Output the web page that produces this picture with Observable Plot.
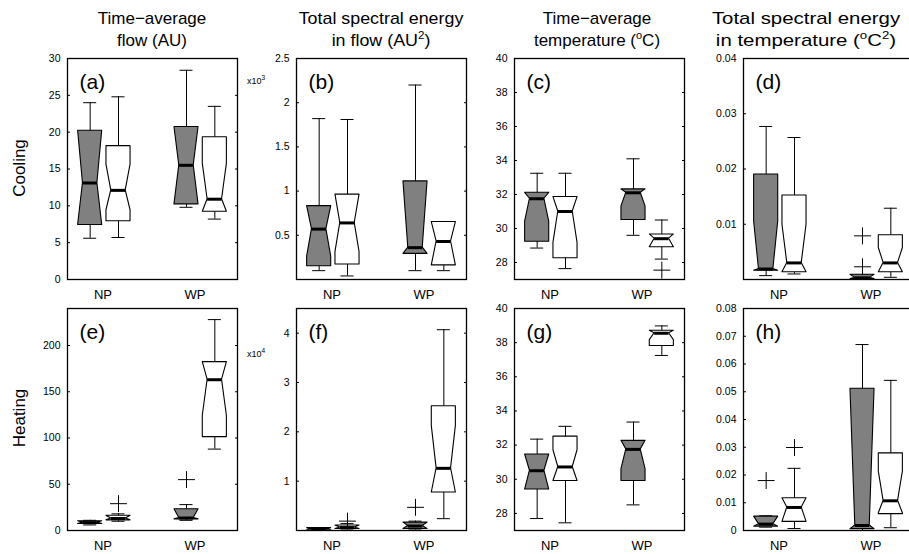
<!DOCTYPE html>
<html><head><meta charset="utf-8">
<script src="https://cdn.jsdelivr.net/npm/d3@7"></script>
<script src="https://cdn.jsdelivr.net/npm/@observablehq/plot@0.6"></script>
<style>
html,body{margin:0;padding:0;background:#fff;}
body{width:909px;height:554px;position:relative;overflow:hidden;font-family:"Liberation Sans",Arial,Helvetica,sans-serif;color:#000;}
.title{position:absolute;font-size:17px;line-height:22px;text-align:center;white-space:nowrap;}
.title sup{font-size:11px;line-height:0;vertical-align:7px;}
.row{position:absolute;font-size:17px;white-space:nowrap;transform-origin:center;}
.exp{position:absolute;font-size:9px;white-space:nowrap;}
.exp sup{font-size:6.5px;vertical-align:4px;line-height:0;}
.pnl{position:absolute;}
</style></head><body>
<script>
// ---------- shared categories / labels ----------
const groupLabels = ["NP", "WP"];
const groupPositions = [1.25, 4.5];
const boxPositions = [0.8, 1.8, 4.2, 5.2];
const boxFills = ["#808080", "#ffffff", "#808080", "#ffffff"];
const panelLabels = ["(a)", "(b)", "(c)", "(d)", "(e)", "(f)", "(g)", "(h)"];
const rowLabels = ["Cooling", "Heating"];
const titleLine1 = ["Time\u2212average", "Total spectral energy", "Time\u2212average", "Total spectral energy"];
const titleLine2 = ["flow (AU)", "in flow (AU<sup>2</sup>)", "temperature (<sup>o</sup>C)", "in temperature (<sup>o</sup>C<sup>2</sup>)"];
const exponentLabels = ["x10<sup>3</sup>", "x10<sup>4</sup>"];

// ---------- box statistics: [low whisker, q1, notch low, median, notch high, q3, high whisker] ----------
const statsA = [[5.6, 7.4, 7.4, 13.1, 20.2, 20.2, 24.0], [5.7, 7.9, 9.4, 12.1, 15.6, 18.1, 24.8], [9.8, 10.2, 10.2, 15.5, 20.7, 20.7, 28.4], [8.2, 9.2, 9.2, 10.9, 15.7, 19.3, 23.5]];
const outliersA = [[], [], [], []];
const statsB = [[0.10, 0.15, 0.26, 0.57, 0.83, 0.83, 1.82], [0.04, 0.17, 0.31, 0.64, 0.96, 0.96, 1.81], [0.10, 0.29, 0.29, 0.36, 1.11, 1.11, 2.20], [0.10, 0.16, 0.16, 0.43, 0.65, 0.65, 0.65]];
const outliersB = [[], [], [], []];
const statsC = [[28.85, 29.22, 30.4, 31.75, 32.1, 32.1, 33.25], [27.64, 28.25, 29.15, 31.0, 31.85, 31.85, 33.25], [29.6, 30.5, 31.3, 32.1, 32.3, 32.3, 34.1], [28.2, 28.9, 28.9, 29.4, 29.65, 29.65, 30.5]];
const outliersC = [[], [], [], [27.55]];
const statsD = [[0.0007, 0.0016, 0.0016, 0.0019, 0.0105, 0.019, 0.0277], [0.001, 0.0013, 0.0013, 0.003, 0.0099, 0.0152, 0.0257], [0.0001, 0.0001, 0.0001, 0.0003, 0.00085, 0.00085, 0.00085], [0.0004, 0.0013, 0.0013, 0.003, 0.0057, 0.008, 0.0129]];
const outliersD = [[], [], [0.0023, 0.0079], []];
const statsE = [[6, 7, 7, 8.5, 10, 10, 11], [10, 11, 11, 13, 16, 16, 18], [11, 12, 12, 13.5, 23, 23, 28], [88, 101, 124, 163, 182, 182, 228]];
const outliersE = [[], [29], [55], []];
const statsF = [[0.01, 0.015, 0.015, 0.03, 0.05, 0.05, 0.06], [0.01, 0.03, 0.03, 0.06, 0.10, 0.10, 0.14], [0.01, 0.03, 0.03, 0.09, 0.16, 0.16, 0.19], [0.24, 0.77, 0.77, 1.26, 2.12, 2.52, 4.07]];
const outliersF = [[], [0.19], [0.47], []];
const statsG = [[27.7, 29.4, 29.4, 30.5, 31.45, 31.45, 32.35], [27.45, 29.9, 29.9, 30.72, 31.7, 32.5, 33.1], [28.5, 29.9, 30.6, 31.75, 32.25, 32.25, 33.35], [37.25, 37.8, 38.15, 38.55, 38.7, 38.7, 38.98]];
const outliersG = [[], [], [], []];
const statsH = [[0.0012, 0.0014, 0.0014, 0.0023, 0.005, 0.005, 0.0053], [0.0007, 0.0031, 0.0031, 0.0083, 0.0116, 0.0116, 0.0224], [0, 0.0005, 0.0005, 0.0018, 0.0511, 0.0511, 0.067], [0.001, 0.0059, 0.0062, 0.0107, 0.0212, 0.0278, 0.0541]];
const outliersH = [[0.018], [0.0299], [], []];

// ---------- y axes ----------
const ticksA = [0, 5, 10, 15, 20, 25, 30], domainA = [0, 30];
const ticksB = [0.5, 1, 1.5, 2, 2.5], domainB = [0, 2.5];
const ticksC = [28, 30, 32, 34, 36, 38, 40], domainC = [27, 40];
const ticksD = [0.01, 0.02, 0.03, 0.04], domainD = [0, 0.04];
const ticksE = [0, 50, 100, 150, 200], domainE = [0, 240];
const ticksF = [1, 2, 3, 4], domainF = [0, 4.5];
const ticksG = [28, 30, 32, 34, 36, 38, 40], domainG = [27, 40];
const ticksH = [0, 0.01, 0.02, 0.03, 0.04, 0.05, 0.06, 0.07, 0.08], domainH = [0, 0.08];

const panels = [
  {stats: statsA, outliers: outliersA, ticks: ticksA, domain: domainA},
  {stats: statsB, outliers: outliersB, ticks: ticksB, domain: domainB},
  {stats: statsC, outliers: outliersC, ticks: ticksC, domain: domainC},
  {stats: statsD, outliers: outliersD, ticks: ticksD, domain: domainD},
  {stats: statsE, outliers: outliersE, ticks: ticksE, domain: domainE},
  {stats: statsF, outliers: outliersF, ticks: ticksF, domain: domainF},
  {stats: statsG, outliers: outliersG, ticks: ticksG, domain: domainG},
  {stats: statsH, outliers: outliersH, ticks: ticksH, domain: domainH}
];

// ---------- layout ----------
const colLefts = [67, 296, 514, 743];
const colTitleCenters = [152, 381, 597, 806];
const colTitleStretch = [1, 1.05, 1, 1.2];
const rowTops = [58, 308];
const rowHeights = [221, 222];
const frameW = 170;
const ML = 45, MR = 6, MT = 6, MB = 30;
const HW = 0.425, WW = 0.255, CW = 0.23;

panels.forEach((p, k) => {
  const r = Math.floor(k / 4), c = k % 4;
  const boxes = p.stats.map((s, i) => ({i, x: boxPositions[i], lo: s[0], q1: s[1], nlo: s[2], med: s[3], nhi: s[4], q3: s[5], hi: s[6]}));
  const outline = boxes.flatMap(b => [
    {i: b.i, y: b.q1, x1: b.x - HW, x2: b.x + HW},
    {i: b.i, y: b.nlo, x1: b.x - HW, x2: b.x + HW},
    {i: b.i, y: b.med, x1: b.x - WW, x2: b.x + WW},
    {i: b.i, y: b.nhi, x1: b.x - HW, x2: b.x + HW},
    {i: b.i, y: b.q3, x1: b.x - HW, x2: b.x + HW}
  ]);
  const outs = p.outliers.flatMap((o, i) => o.map(v => ({x: boxPositions[i], y: v})));
  const svg = Plot.plot({
    width: frameW + ML + MR,
    height: rowHeights[r] + MT + MB,
    marginLeft: ML, marginRight: MR, marginTop: MT, marginBottom: MB,
    style: {fontFamily: '"Liberation Sans", Arial, sans-serif', fontSize: "10.5px", color: "#000", background: "transparent", overflow: "visible"},
    x: {domain: [0, 6]},
    y: {domain: p.domain},
    color: {type: "identity"},
    marks: [
      Plot.ruleX(boxes, {x: "x", y1: "q3", y2: "hi", stroke: "#000", strokeWidth: 1}),
      Plot.ruleX(boxes, {x: "x", y1: "lo", y2: "q1", stroke: "#000", strokeWidth: 1}),
      Plot.ruleY(boxes, {y: "hi", x1: d => d.x - CW, x2: d => d.x + CW, stroke: "#000", strokeWidth: 1}),
      Plot.ruleY(boxes, {y: "lo", x1: d => d.x - CW, x2: d => d.x + CW, stroke: "#000", strokeWidth: 1}),
      Plot.areaX(outline, {y: "y", x1: "x1", x2: "x2", z: "i", fill: d => boxFills[d.i], stroke: "#000", strokeWidth: 1.1, curve: "linear"}),
      Plot.ruleY(boxes, {y: "med", x1: d => d.x - WW, x2: d => d.x + WW, stroke: "#000", strokeWidth: 3}),
      Plot.dot(outs, {x: "x", y: "y", symbol: "plus", r: 5.5, stroke: "#000", strokeWidth: 1}),
      Plot.frame({stroke: "#000", strokeWidth: 1.3}),
      Plot.axisY({ticks: p.ticks, tickFormat: d => String(d), tickSize: 0, tickPadding: 7, label: null}),
      Plot.axisY({ticks: p.ticks, anchor: "left", tickSize: -3, tickFormat: () => "", label: null}),
      Plot.axisY({ticks: p.ticks, anchor: "right", tickSize: -3, tickFormat: () => "", label: null}),
      Plot.axisX({ticks: groupPositions, tickFormat: d => groupLabels[groupPositions.indexOf(d)], tickSize: 0, tickPadding: 10, fontSize: 13, label: null}),
      Plot.text([panelLabels[k]], {text: d => d, frameAnchor: "top-left", dx: 12, dy: 16, fontSize: 21})
    ]
  });
  svg.classList.add("pnl");
  svg.style.left = (colLefts[c] - ML) + "px";
  svg.style.top = (rowTops[r] - MT) + "px";
  document.body.appendChild(svg);
});

// titles
colTitleCenters.forEach((cx, c) => {
  const d = document.createElement("div");
  d.className = "title";
  d.innerHTML = titleLine1[c] + "<br>" + titleLine2[c];
  d.style.left = cx + "px";
  d.style.top = "8px";
  d.style.transform = `translateX(-50%) scaleX(${colTitleStretch[c]})`;
  document.body.appendChild(d);
});
// row labels
const rowCenters = [168, 418];
rowLabels.forEach((t, r) => {
  const d = document.createElement("div");
  d.className = "row";
  d.textContent = t;
  document.body.appendChild(d);
  const w = d.offsetWidth, h = d.offsetHeight;
  d.style.left = (20 - w / 2) + "px";
  d.style.top = (rowCenters[r] - h / 2) + "px";
  d.style.transform = "rotate(-90deg)";
});
// exponent labels
const expTops = [76, 349];
exponentLabels.forEach((t, r) => {
  const d = document.createElement("div");
  d.className = "exp";
  d.innerHTML = t;
  d.style.left = "247px";
  d.style.top = expTops[r] + "px";
  document.body.appendChild(d);
});
</script>
</body></html>
